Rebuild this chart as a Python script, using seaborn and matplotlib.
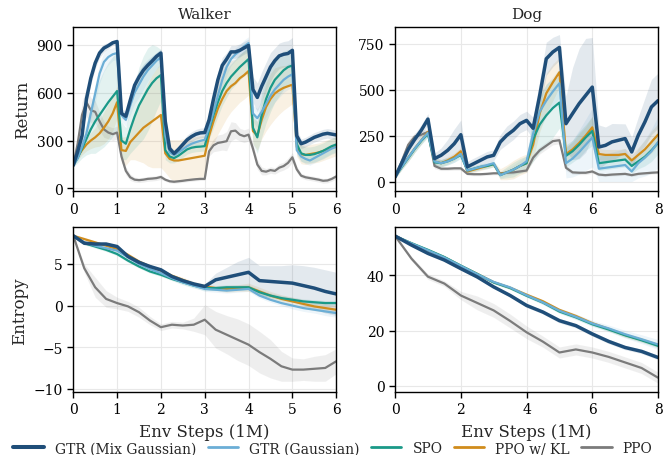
import numpy as np
import pandas as pd
import matplotlib.pyplot as plt
import seaborn as sns
from matplotlib.lines import Line2D

methods = ['GTR (Mix Gaussian)', 'GTR (Gaussian)', 'SPO', 'PPO w/ KL', 'PPO']
colors = ['#1f4e79', '#6baed6', '#1a9988', '#d08c1c', '#7b7b7b']
widths = [2.5, 1.6, 1.6, 1.6, 1.6]

# Walker return, steps 0..6 every 0.1
walker_x = np.round(np.arange(0, 6.01, 0.1), 1)
walker_ret = {
    'GTR (Mix Gaussian)': [145, 230, 330, 560, 690, 785, 848, 879, 894, 912, 920,
                           470, 452, 552, 646, 698, 740, 771, 798, 827, 848,
                           420, 250, 219, 245, 275, 305, 325, 340, 348, 350,
                           430, 560, 680, 770, 810, 855, 855, 865, 880, 895,
                           620, 570, 640, 700, 760, 800, 830, 840, 845, 865,
                           330, 280, 290, 305, 320, 330, 340, 345, 340, 335],
    'GTR (Gaussian)': [145, 190, 260, 344, 469, 594, 719, 792, 823, 840, 848,
                       460, 430, 520, 600, 650, 700, 740, 770, 800, 820,
                       330, 225, 210, 225, 245, 265, 280, 290, 298, 305,
                       380, 480, 580, 680, 760, 810, 840, 860, 890, 910,
                       470, 440, 480, 530, 580, 620, 650, 680, 700, 715,
                       240, 200, 185, 175, 190, 205, 220, 235, 250, 260],
    'SPO': [145, 190, 250, 310, 370, 420, 460, 500, 540, 575, 610,
            300, 280, 370, 450, 520, 570, 620, 660, 690, 710,
            240, 200, 190, 205, 225, 245, 255, 260, 262, 265,
            370, 460, 540, 610, 660, 700, 730, 760, 785, 810,
            380, 320, 460, 560, 630, 680, 710, 740, 760, 770,
            280, 220, 210, 210, 215, 225, 235, 250, 265, 275],
    'PPO w/ KL': [145, 200, 240, 275, 300, 320, 345, 380, 420, 470, 540,
                  240, 235, 290, 320, 350, 380, 400, 420, 440, 460,
                  220, 185, 175, 175, 180, 185, 190, 195, 200, 205,
                  330, 420, 500, 560, 610, 640, 660, 690, 710, 735,
                  360, 330, 430, 510, 560, 595, 615, 630, 640, 650,
                  260, 215, 210, 215, 220, 225, 235, 245, 255, 265],
    'PPO': [145, 280, 460, 540, 490, 480, 420, 370, 350, 340, 350,
            200, 110, 70, 55, 52, 55, 60, 62, 65, 72,
            55, 45, 42, 45, 48, 52, 55, 58, 60, 60,
            233, 270, 285, 290, 296, 358, 362, 337, 327, 337,
            250, 150, 110, 105, 115, 110, 130, 140, 160, 195,
            120, 80, 70, 65, 60, 55, 48, 50, 60, 75],
}
walker_ret_sd = {
    'GTR (Mix Gaussian)': [10, 20, 30, 40, 40, 35, 30, 25, 20, 15, 15,
                           30, 30, 40, 40, 40, 35, 30, 30, 25, 25,
                           30, 20, 20, 20, 25, 30, 30, 30, 30, 30,
                           40, 50, 50, 50, 40, 40, 40, 40, 40, 40,
                           80, 90, 90, 90, 90, 80, 80, 80, 80, 80,
                           40, 30, 30, 30, 30, 30, 30, 30, 30, 30],
    'GTR (Gaussian)': [10, 20, 30, 40, 50, 60, 60, 60, 50, 40, 40,
                       40, 40, 60, 70, 80, 80, 70, 60, 50, 50,
                       30, 20, 20, 20, 20, 25, 25, 25, 25, 25,
                       40, 50, 60, 60, 50, 40, 40, 40, 40, 40,
                       50, 60, 70, 80, 80, 80, 80, 80, 80, 80,
                       30, 30, 30, 30, 30, 30, 30, 30, 30, 30],
    'SPO': [10, 30, 60, 100, 150, 200, 220, 240, 250, 250, 250,
            120, 100, 150, 200, 240, 260, 260, 240, 200, 160,
            60, 40, 30, 30, 30, 30, 30, 30, 30, 30,
            60, 80, 90, 90, 90, 80, 80, 80, 80, 80,
            100, 100, 140, 150, 150, 140, 130, 120, 110, 100,
            60, 50, 50, 50, 50, 50, 50, 50, 50, 50],
    'PPO w/ KL': [10, 20, 30, 40, 50, 60, 80, 100, 110, 110, 100,
                  80, 90, 110, 140, 180, 220, 260, 290, 310, 330,
                  120, 120, 130, 130, 130, 130, 130, 130, 130, 130,
                  120, 140, 160, 170, 170, 160, 150, 150, 150, 150,
                  80, 90, 120, 150, 160, 160, 150, 140, 130, 120,
                  60, 60, 60, 60, 60, 60, 60, 60, 60, 60],
    'PPO': [10, 40, 80, 90, 80, 70, 60, 50, 40, 40, 40,
            30, 25, 20, 15, 15, 15, 15, 15, 15, 15,
            10, 10, 10, 10, 10, 10, 10, 10, 10, 10,
            30, 40, 50, 50, 60, 60, 50, 40, 40, 40,
            30, 30, 25, 20, 20, 20, 25, 25, 30, 30,
            20, 15, 15, 15, 15, 15, 15, 15, 15, 15],
}

# Dog return, steps 0..8 every 0.2
dog_x = np.round(np.arange(0, 8.01, 0.2), 1)
dog_ret = {
    'GTR (Mix Gaussian)': [25, 100, 175, 230, 280, 340,
                           125, 143, 170, 206, 255,
                           80, 98, 116, 134, 143,
                           215, 252, 279, 315, 333,
                           290, 469, 668, 705, 730,
                           315, 370, 424, 469, 514,
                           188, 197, 216, 225, 234,
                           161, 252, 324, 406, 440],
    'GTR (Gaussian)': [25, 80, 130, 180, 225, 265,
                       110, 100, 110, 125, 150,
                       60, 70, 80, 90, 100,
                       35, 50, 65, 85, 110,
                       260, 380, 440, 490, 535,
                       100, 125, 160, 200, 240,
                       70, 75, 80, 85, 90,
                       55, 100, 130, 165, 215],
    'SPO': [25, 78, 128, 178, 222, 260,
            105, 100, 110, 125, 145,
            60, 70, 80, 85, 95,
            35, 50, 65, 85, 100,
            230, 310, 360, 400, 430,
            140, 165, 200, 240, 275,
            100, 105, 110, 115, 120,
            85, 110, 135, 170, 210],
    'PPO w/ KL': [25, 80, 130, 180, 225, 270,
                  110, 100, 115, 135, 165,
                  55, 65, 75, 85, 95,
                  40, 50, 65, 85, 100,
                  200, 370, 480, 540, 595,
                  150, 175, 210, 250, 295,
                  150, 145, 145, 145, 150,
                  115, 145, 175, 215, 255],
    'PPO': [25, 110, 200, 245, 255, 270,
            85, 70, 70, 72, 72,
            42, 40, 40, 42, 45,
            45, 48, 50, 55, 60,
            130, 170, 195, 220, 225,
            75, 50, 48, 48, 55,
            38, 35, 38, 40, 42,
            35, 42, 45, 48, 50],
}
dog_ret_sd = {
    'GTR (Mix Gaussian)': [10, 20, 25, 30, 30, 30,
                           30, 40, 60, 80, 80,
                           30, 30, 30, 30, 30,
                           40, 50, 50, 50, 50,
                           60, 80, 90, 80, 70,
                           150, 250, 300, 310, 270,
                           120, 100, 100, 90, 80,
                           80, 100, 130, 150, 150],
    'GTR (Gaussian)': [10, 15, 20, 20, 20, 20,
                       20, 20, 20, 20, 20,
                       15, 15, 15, 15, 15,
                       15, 20, 25, 30, 30,
                       80, 90, 90, 80, 80,
                       80, 100, 120, 140, 160,
                       70, 75, 80, 85, 90,
                       55, 80, 100, 120, 140],
    'SPO': [10, 15, 20, 20, 20, 20,
            20, 20, 20, 20, 20,
            15, 15, 15, 15, 15,
            20, 30, 40, 40, 40,
            120, 150, 170, 160, 140,
            60, 60, 70, 70, 80,
            40, 40, 40, 40, 40,
            40, 40, 50, 60, 60],
    'PPO w/ KL': [10, 15, 20, 20, 20, 20,
                  20, 20, 20, 20, 20,
                  15, 15, 15, 15, 15,
                  30, 40, 50, 50, 50,
                  80, 100, 110, 100, 80,
                  40, 40, 50, 50, 60,
                  30, 30, 30, 30, 30,
                  30, 40, 50, 60, 60],
    'PPO': [10, 20, 25, 20, 20, 20,
            15, 10, 10, 10, 10,
            8, 8, 8, 8, 8,
            8, 8, 8, 10, 10,
            20, 20, 20, 20, 20,
            15, 10, 10, 10, 10,
            8, 8, 8, 8, 8,
            8, 8, 8, 8, 8],
}

# Walker entropy, steps 0..6 every 0.25
walker_ent_x = np.arange(0, 6.01, 0.25)
walker_ent = {
    'GTR (Mix Gaussian)': [8.4, 7.5, 7.4, 7.4, 7.1, 5.9, 5.2, 4.7, 4.3, 3.5, 3.0, 2.6, 2.3,
                           3.1, 3.4, 3.7, 4.0, 3.0, 2.9, 2.8, 2.7, 2.4, 2.1, 1.7, 1.4],
    'GTR (Gaussian)': [8.4, 7.6, 7.2, 6.9, 6.6, 5.8, 5.0, 4.4, 3.9, 3.3, 2.8, 2.4, 2.0,
                       1.9, 1.8, 1.9, 2.0, 1.2, 0.7, 0.3, 0.0, -0.3, -0.5, -0.7, -0.9],
    'SPO': [8.4, 7.5, 7.1, 6.7, 6.2, 5.4, 4.7, 4.1, 3.7, 3.2, 2.8, 2.4, 2.1,
            2.1, 2.2, 2.2, 2.2, 1.6, 1.2, 0.9, 0.7, 0.5, 0.4, 0.3, 0.3],
    'PPO w/ KL': [8.4, 8.0, 7.6, 7.2, 6.8, 6.1, 5.3, 4.7, 4.2, 3.6, 3.1, 2.6, 2.3,
                  2.1, 2.0, 2.1, 2.2, 1.7, 1.2, 0.8, 0.5, 0.2, -0.1, -0.3, -0.5],
    'PPO': [8.4, 4.5, 2.2, 0.8, 0.3, -0.1, -0.8, -1.8, -2.6, -2.3, -2.4, -2.3, -1.7,
            -2.9, -3.5, -4.1, -4.7, -5.6, -6.4, -7.3, -7.7, -7.7, -7.6, -7.5, -6.7],
}
walker_ent_sd = {
    'GTR (Mix Gaussian)': [0.2, 0.2, 0.2, 0.2, 0.2, 0.2, 0.2, 0.2, 0.2, 0.2, 0.2, 0.2, 0.3,
                           0.8, 1.2, 1.6, 1.8, 1.8, 1.9, 2.0, 2.2, 2.4, 2.5, 2.6, 2.6],
    'GTR (Gaussian)': [0.1, 0.2, 0.2, 0.2, 0.2, 0.2, 0.2, 0.2, 0.2, 0.2, 0.2, 0.2, 0.3,
                       0.3, 0.3, 0.3, 0.3, 0.3, 0.3, 0.3, 0.4, 0.4, 0.4, 0.5, 0.5],
    'SPO': [0.1, 0.2, 0.2, 0.2, 0.2, 0.2, 0.2, 0.2, 0.2, 0.2, 0.3, 0.3, 0.3,
            0.3, 0.3, 0.3, 0.3, 0.3, 0.3, 0.3, 0.3, 0.3, 0.3, 0.3, 0.3],
    'PPO w/ KL': [0.1, 0.2, 0.2, 0.2, 0.2, 0.2, 0.2, 0.2, 0.2, 0.2, 0.3, 0.3, 0.3,
                  0.3, 0.4, 0.4, 0.5, 0.5, 0.5, 0.5, 0.5, 0.5, 0.5, 0.5, 0.5],
    'PPO': [0.2, 0.5, 1.2, 1.0, 0.7, 0.6, 0.6, 0.5, 0.4, 0.4, 0.4, 0.8, 1.8,
            2.2, 2.3, 2.5, 2.5, 2.5, 2.3, 1.8, 1.4, 1.3, 1.5, 1.6, 1.5],
}

# Dog entropy, steps 0..8 every 0.5
dog_ent_x = np.arange(0, 8.01, 0.5)
dog_ent = {
    'GTR (Mix Gaussian)': [54.2, 50.9, 47.9, 45.5, 42.4, 39.4, 35.8, 32.7, 29.1,
                           26.7, 23.6, 21.8, 18.8, 16.1, 13.9, 12.5, 10.3],
    'GTR (Gaussian)': [54.2, 51.5, 49.0, 46.4, 43.4, 40.4, 37.6, 35.6, 32.8,
                       30.2, 27.2, 25.0, 22.6, 20.8, 18.7, 16.9, 15.0],
    'SPO': [54.2, 51.6, 49.2, 46.6, 43.5, 40.5, 37.4, 35.4, 32.6,
            30.1, 26.9, 24.8, 22.3, 20.4, 18.3, 16.5, 14.5],
    'PPO w/ KL': [54.2, 51.5, 49.0, 46.5, 43.4, 40.5, 37.5, 35.5, 33.0,
                  30.6, 27.5, 25.3, 22.7, 20.6, 18.4, 16.7, 14.8],
    'PPO': [54.2, 46.0, 39.5, 37.0, 32.7, 30.0, 27.3, 23.5, 19.4,
            16.0, 12.1, 13.2, 12.1, 10.5, 8.5, 6.5, 3.0],
}
dog_ent_sd = {
    'GTR (Mix Gaussian)': [0.3, 0.4, 0.5, 0.5, 0.5, 0.5, 0.5, 0.6, 0.7,
                           0.7, 0.8, 0.8, 0.8, 0.8, 0.8, 0.8, 0.8],
    'GTR (Gaussian)': [0.3, 0.4, 0.5, 0.5, 0.6, 0.6, 0.6, 0.7, 0.7,
                       0.8, 0.9, 1.0, 1.1, 1.2, 1.4, 1.6, 1.8],
    'SPO': [0.3, 0.4, 0.4, 0.4, 0.5, 0.5, 0.5, 0.5, 0.5,
            0.6, 0.6, 0.6, 0.6, 0.7, 0.7, 0.7, 0.8],
    'PPO w/ KL': [0.3, 0.4, 0.4, 0.4, 0.5, 0.5, 0.5, 0.6, 0.6,
                  0.6, 0.6, 0.7, 0.7, 0.7, 0.8, 0.8, 0.8],
    'PPO': [0.3, 0.8, 1.0, 1.0, 1.5, 2.5, 2.5, 2.5, 2.3,
            2.0, 2.0, 2.0, 2.0, 2.0, 2.0, 2.0, 2.0],
}

sns.set_style('ticks')
plt.rcParams['font.family'] = ['DejaVu Serif']
plt.rcParams['axes.edgecolor'] = 'black'

fig, axes = plt.subplots(2, 2, figsize=(6.66, 4.56), dpi=100)
fig.subplots_adjust(left=0.110, right=0.988, top=0.939, bottom=0.138,
                    wspace=0.224, hspace=0.218)

panels = [
    (axes[0, 0], walker_x, walker_ret, walker_ret_sd),
    (axes[0, 1], dog_x, dog_ret, dog_ret_sd),
    (axes[1, 0], walker_ent_x, walker_ent, walker_ent_sd),
    (axes[1, 1], dog_ent_x, dog_ent, dog_ent_sd),
]

for ax, xs, means, sds in panels:
    # draw PPO first so the main method ends on top
    for i in reversed(range(len(methods))):
        m = methods[i]
        mu = np.array(means[m], dtype=float)
        sd = np.array(sds[m], dtype=float)
        ax.fill_between(xs, mu - sd, mu + sd, color=colors[i], alpha=0.12, lw=0)
        df = pd.DataFrame({'step': xs, 'val': mu})
        sns.lineplot(data=df, x='step', y='val', ax=ax, color=colors[i],
                     lw=widths[i], estimator=None)
    ax.grid(True, color='#e8e8e8', lw=0.8)
    ax.set_axisbelow(True)
    ax.set_xlabel('')
    ax.set_ylabel('')
    ax.tick_params(labelsize=10, length=4, width=1, colors='black')
    for s in ax.spines.values():
        s.set_linewidth(1.0)
        s.set_color('black')

axes[0, 0].set_xlim(0, 6)
axes[0, 0].set_ylim(-19, 1012)
axes[0, 0].set_yticks([0, 300, 600, 900])
axes[0, 1].set_xlim(0, 8)
axes[0, 1].set_ylim(-54, 842)
axes[0, 1].set_yticks([0, 250, 500, 750])
axes[1, 0].set_xlim(0, 6)
axes[1, 0].set_ylim(-10.4, 9.4)
axes[1, 0].set_yticks([-10, -5, 0, 5])
axes[1, 1].set_xlim(0, 8)
axes[1, 1].set_ylim(-2.2, 57.3)
axes[1, 1].set_yticks([0, 20, 40])
for ax in axes[:, 0]:
    ax.set_xticks(range(0, 7))
for ax in axes[:, 1]:
    ax.set_xticks(range(0, 9, 2))

axes[0, 0].set_title('Walker', fontsize=11)
axes[0, 1].set_title('Dog', fontsize=11)
axes[0, 0].set_ylabel('Return', fontsize=12)
axes[1, 0].set_ylabel('Entropy', fontsize=12)
axes[1, 0].set_xlabel('Env Steps (1M)', fontsize=12, labelpad=5)
axes[1, 1].set_xlabel('Env Steps (1M)', fontsize=12, labelpad=5)

handles = [Line2D([0], [0], color=colors[i], lw=widths[i] + 0.4) for i in range(len(methods))]
fig.legend(handles, methods, loc='lower center', ncol=5, frameon=False,
           fontsize=10, bbox_to_anchor=(0.5, -0.028), handlelength=2.2,
           columnspacing=0.8, handletextpad=0.8)

fig.savefig('out.png', dpi=100)
